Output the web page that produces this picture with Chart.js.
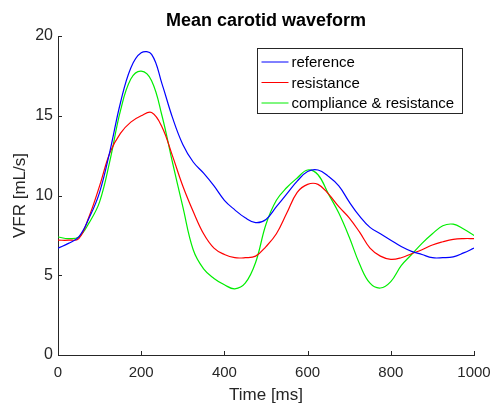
<!DOCTYPE html>
<html>
<head>
<meta charset="utf-8">
<script src="https://cdn.jsdelivr.net/npm/chart.js@4/dist/chart.umd.min.js"></script>
<style>
  html, body { margin: 0; padding: 0; background: #fff; }
  #wrap { width: 493px; height: 406px; }
</style>
</head>
<body>
<div id="wrap"><canvas id="chart" width="493" height="406"></canvas></div>
<script>
// time axis [ms]
const times = [0, 25, 50, 75, 100, 125, 150, 175, 200, 225, 250, 275, 300, 325, 350, 375, 400, 425, 450, 475,
  500, 525, 550, 575, 600, 625, 650, 675, 700, 725, 750, 775, 800, 825, 850, 875, 900, 925, 950, 975, 1000]

// VFR [mL/s]
const reference = [6.7, 7.0, 7.4, 8.6, 10.2, 12.8, 15.8, 18.0, 18.95, 18.85, 17.0, 14.9, 13.2, 12.1, 11.4, 10.6, 9.7, 9.1, 8.6, 8.3,
  8.5, 9.3, 10.1, 10.9, 11.5, 11.6, 11.2, 10.6, 9.6, 8.7, 8.0, 7.6, 7.2, 6.8, 6.5, 6.3, 6.1, 6.1, 6.15, 6.4, 6.7]
const resistance = [7.2, 7.2, 7.3, 8.7, 10.6, 12.7, 13.9, 14.6, 15.0, 15.2, 14.3, 12.5, 10.6, 9.0, 7.6, 6.7, 6.3, 6.1, 6.1, 6.2,
  6.8, 7.6, 8.9, 10.2, 10.7, 10.7, 10.1, 9.3, 8.6, 7.7, 6.7, 6.2, 6.0, 6.1, 6.35, 6.6, 6.9, 7.1, 7.25, 7.3, 7.3]
const complianceResistance = [7.4, 7.3, 7.4, 8.3, 9.6, 12.2, 15.3, 17.3, 17.8, 17.2, 15.0, 12.1, 9.3, 6.6, 5.4, 4.8, 4.4, 4.15, 4.5, 5.8,
  8.2, 9.7, 10.5, 11.1, 11.6, 11.3, 10.1, 8.9, 7.4, 5.7, 4.5, 4.2, 4.6, 5.6, 6.3, 7.0, 7.6, 8.1, 8.2, 7.9, 7.5]

const seriesNames = ['reference', 'resistance', 'compliance & resistance']
const seriesColors = ['#0000ff', '#ff0000', '#00ee00']
const seriesValues = [reference, resistance, complianceResistance]

const xTicks = [0, 200, 400, 600, 800, 1000]
const yTicks = [0, 5, 10, 15, 20]

const axisColor = '#262626'
const fontFamily = '"Liberation Sans", Arial, sans-serif'

// MATLAB style inward ticks + title centred over the axes
const axesExtras = {
  id: 'axesExtras',
  afterDraw(chart) {
    const { ctx, chartArea: { left, right, bottom }, scales: { x, y } } = chart
    ctx.save()
    ctx.strokeStyle = axisColor
    ctx.lineWidth = 1
    ctx.beginPath()
    xTicks.forEach(v => {
      const px = Math.round(x.getPixelForValue(v)) + 0.5
      ctx.moveTo(px, bottom)
      ctx.lineTo(px, bottom - 4)
    })
    yTicks.forEach(v => {
      const py = Math.round(y.getPixelForValue(v)) + 0.5
      ctx.moveTo(left, py)
      ctx.lineTo(left + 4, py)
    })
    ctx.stroke()

    ctx.fillStyle = '#000'
    ctx.font = 'bold 18px ' + fontFamily
    ctx.textAlign = 'center'
    ctx.textBaseline = 'middle'
    ctx.fillText('Mean carotid waveform', (left + right) / 2, 21)
    ctx.restore()
  }
}

// legend box in the upper right corner
const boxLegend = {
  id: 'boxLegend',
  afterDraw(chart) {
    const { ctx } = chart
    const bx = 257.5, by = 48.5, bw = 205, bh = 65
    ctx.save()
    ctx.fillStyle = '#fff'
    ctx.fillRect(bx, by, bw, bh)
    ctx.strokeStyle = axisColor
    ctx.lineWidth = 1
    ctx.strokeRect(bx, by, bw, bh)
    ctx.font = '15px ' + fontFamily
    ctx.textBaseline = 'middle'
    chart.data.datasets.forEach((ds, i) => {
      const ly = by + 13.5 + i * 20.5
      ctx.strokeStyle = ds.borderColor
      ctx.beginPath()
      ctx.moveTo(bx + 4, ly)
      ctx.lineTo(bx + 31, ly)
      ctx.stroke()
      ctx.fillStyle = '#000'
      ctx.fillText(ds.label, bx + 34, ly + 1)
    })
    ctx.restore()
  }
}

new Chart(document.getElementById('chart'), {
  type: 'line',
  data: {
    datasets: seriesNames.map((name, i) => ({
      label: name,
      data: times.map((t, j) => ({ x: t, y: seriesValues[i][j] })),
      borderColor: seriesColors[i],
      borderWidth: 1.2,
      pointRadius: 0,
      tension: 0.4,
      fill: false
    }))
  },
  options: {
    responsive: false,
    animation: false,
    layout: { padding: { left: 0, right: 19, top: 36, bottom: 0 } },
    plugins: {
      legend: { display: false },
      tooltip: { enabled: false },
      title: { display: false }
    },
    scales: {
      x: {
        type: 'linear',
        min: 0,
        max: 1000,
        afterBuildTicks(scale) { scale.ticks = xTicks.map(v => ({ value: v })) },
        afterFit(scale) {
          scale.height = 51
          scale.paddingLeft = 0
          scale.paddingRight = 0
        },
        grid: { display: false, drawTicks: false },
        border: { display: true, color: axisColor, width: 1 },
        ticks: {
          color: axisColor,
          padding: 9,
          maxRotation: 0,
          callback: v => String(v),
          font: { family: fontFamily, size: 15 }
        },
        title: {
          display: true,
          text: 'Time [ms]',
          color: axisColor,
          font: { family: fontFamily, size: 17 },
          padding: { top: 0, bottom: 0 }
        }
      },
      y: {
        min: 0,
        max: 20,
        afterBuildTicks(scale) { scale.ticks = yTicks.map(v => ({ value: v })) },
        afterFit(scale) {
          scale.width = 58
          scale.paddingTop = 0
          scale.paddingBottom = 0
        },
        grid: { display: false, drawTicks: false },
        border: { display: true, color: axisColor, width: 1 },
        ticks: {
          color: axisColor,
          padding: 5,
          font: { family: fontFamily, size: 16 }
        },
        title: {
          display: true,
          text: 'VFR [mL/s]',
          color: axisColor,
          font: { family: fontFamily, size: 17 },
          padding: { top: 10, bottom: 0 }
        }
      }
    }
  },
  plugins: [axesExtras, boxLegend]
})
</script>
</body>
</html>
